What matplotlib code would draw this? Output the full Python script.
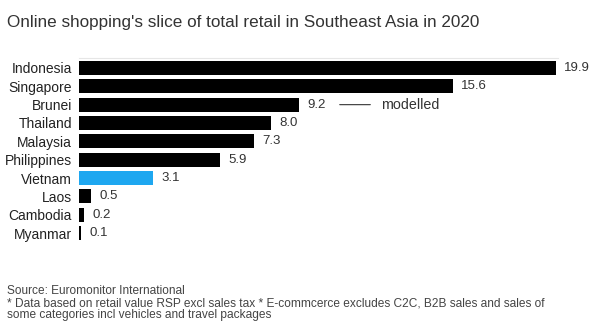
import matplotlib.pyplot as plt

countries = ["Indonesia", "Singapore", "Brunei", "Thailand", "Malaysia",
             "Philippines", "Vietnam", "Laos", "Cambodia", "Myanmar"]
shares = [19.9, 15.6, 9.2, 8.0, 7.3, 5.9, 3.1, 0.5, 0.2, 0.1]
labels = ["19.9", "15.6", "9.2", "8.0", "7.3", "5.9", "3.1", "0.5", "0.2", "0.1"]
highlight = "Vietnam"

plt.rcParams["font.family"] = ["Liberation Sans", "DejaVu Sans"]

fig = plt.figure(figsize=(6, 3.33), dpi=100)
ax = fig.add_axes([79 / 600, 90 / 333, 479 / 600, 185 / 333])

colors = ["#1ea7f0" if c == highlight else "black" for c in countries]
ypos = list(range(len(countries)))
ax.barh(ypos, shares, height=0.76, color=colors)

ax.set_xlim(0, 20)
ax.set_ylim(len(countries) - 0.455, -0.545)
ax.set_yticks(ypos)
ax.set_yticklabels(countries, fontsize=10, color="#222222")
ax.tick_params(axis="y", length=0, pad=5)
ax.set_xticks([])
for s in ["right", "bottom", "left"]:
    ax.spines[s].set_visible(False)
ax.spines["top"].set_color("#e6e6e6")
ax.spines["top"].set_linewidth(0.8)

for y, v, t in zip(ypos, shares, labels):
    ax.annotate(t, (v, y), xytext=(6, 0), textcoords="offset points",
                va="center", ha="left", fontsize=9.5, color="#333333",
                annotation_clip=False)

# "modelled" note next to Brunei
b = countries.index("Brunei")
ax.annotate("", xy=(shares[b] + 1.57, b), xytext=(shares[b] + 3.08, b),
            arrowprops=dict(arrowstyle="-", color="#333333", lw=0.8))
ax.text(shares[b] + 3.4, b, "modelled", va="center", ha="left",
        fontsize=10.3, color="#333333")

fig.text(7 / 600, 1 - 23 / 333, "Online shopping's slice of total retail in Southeast Asia in 2020",
         fontsize=12.3, color="#333333", va="center", ha="left")
fig.text(7 / 600, 1 - 291 / 333, "Source: Euromonitor International",
         fontsize=8.6, color="#444444", va="center", ha="left")
fig.text(7 / 600, 1 - 303 / 333,
         "* Data based on retail value RSP excl sales tax * E-commcerce excludes C2C, B2B sales and sales of",
         fontsize=8.6, color="#444444", va="center", ha="left")
fig.text(7 / 600, 1 - 315 / 333, "some categories incl vehicles and travel packages",
         fontsize=8.6, color="#444444", va="center", ha="left")

fig.savefig("out.png", dpi=100)
